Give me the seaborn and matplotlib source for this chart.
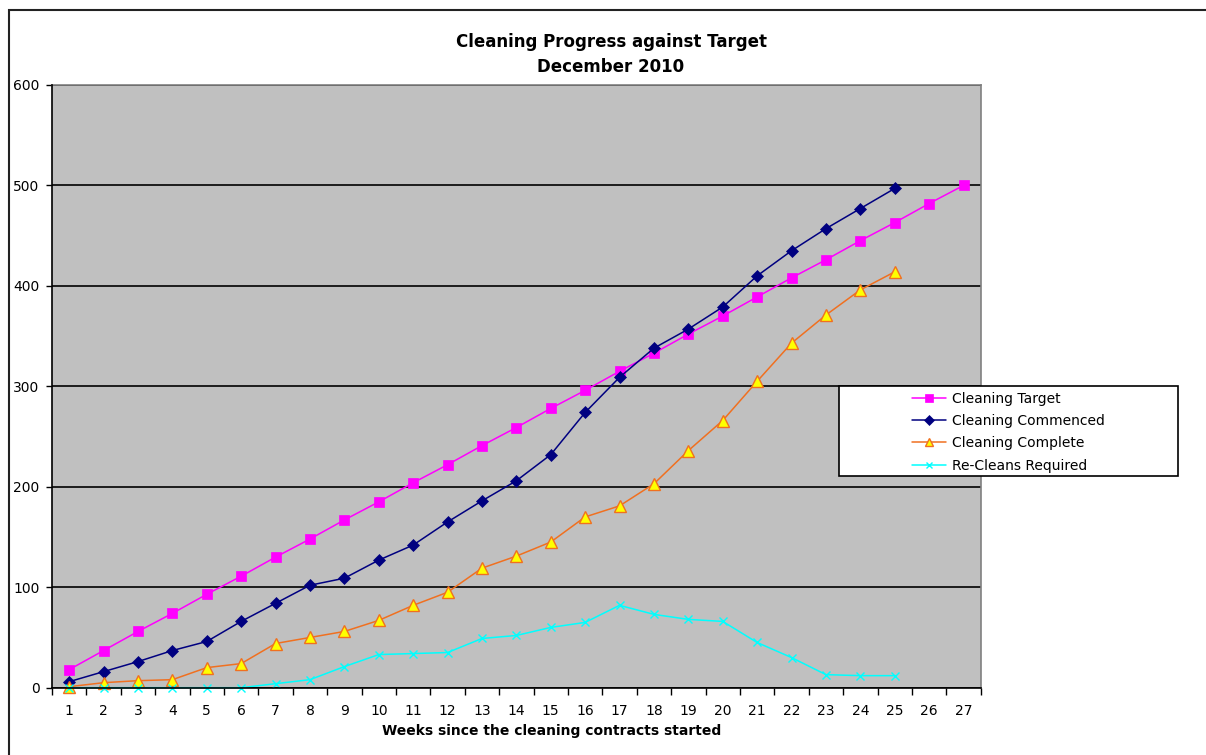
import numpy as np
import pandas as pd
import seaborn as sns
import matplotlib.pyplot as plt
from matplotlib.patches import Rectangle
from matplotlib.ticker import MultipleLocator, FixedLocator

# data
weeks = list(range(1, 28))
target = [18, 37, 56, 74, 93, 111, 130, 148, 167, 185, 204, 222, 241, 259,
          278, 296, 315, 333, 352, 370, 389, 408, 426, 445, 463, 482, 500]
commenced = [6, 16, 26, 37, 46, 66, 84, 102, 109, 127, 142, 165, 186, 206,
             232, 274, 309, 338, 357, 379, 410, 435, 457, 477, 497]
complete = [1, 5, 7, 8, 20, 24, 44, 50, 56, 67, 82, 95, 119, 131,
            145, 170, 181, 203, 236, 266, 305, 343, 371, 396, 414]
recleans = [0, 0, 0, 0, 0, 0, 4, 8, 21, 33, 34, 35, 49, 52,
            60, 65, 82, 73, 68, 66, 45, 30, 13, 12, 12]
series_names = ["Cleaning Target", "Cleaning Commenced",
                "Cleaning Complete", "Re-Cleans Required"]
y_ticks = [0, 100, 200, 300, 400, 500, 600]

W, H = 1206, 755
sns.set_style("white", {"axes.facecolor": "#C0C0C0"})
plt.rcParams["font.family"] = ["DejaVu Sans"]
plt.rcParams["text.color"] = "black"
plt.rcParams["xtick.color"] = "black"
plt.rcParams["ytick.color"] = "black"
plt.rcParams["xtick.labelcolor"] = "black"
plt.rcParams["ytick.labelcolor"] = "black"

fig = plt.figure(figsize=(W / 100, H / 100), dpi=100)
ax = fig.add_axes([52 / W, 1 - 687.7 / H, (980.7 - 52) / W, (687.7 - 85) / H])

styles = [
    dict(color="#FF00FF", marker="s", markersize=7, markerfacecolor="#FF00FF",
         markeredgecolor="#FF00FF", markeredgewidth=0.5),
    dict(color="#000080", marker="D", markersize=6.3, markerfacecolor="#000080",
         markeredgecolor="#000080", markeredgewidth=0.5),
    dict(color="#F07020", marker="^", markersize=8, markerfacecolor="#FFFF00",
         markeredgecolor="#F07020", markeredgewidth=1.0),
    dict(color="#00FFFF", marker="x", markersize=6, markeredgecolor="#00FFFF",
         markeredgewidth=1.0),
]
data = [target, commenced, complete, recleans]

handles = []
for name, vals, st in zip(series_names, data, styles):
    df = pd.DataFrame({"week": weeks[:len(vals)], "value": vals})
    sns.lineplot(data=df, x="week", y="value", ax=ax, linewidth=1.1,
                 clip_on=False, zorder=3, **st)
    leg_st = dict(st)
    leg_st["markersize"] = st["markersize"] * 0.8
    handles.append(plt.Line2D([], [], linewidth=1.1, **leg_st))

ax.set_xlim(0.5, 27.5)
ax.set_ylim(0, 600)
ax.set_xlabel("")
ax.set_ylabel("")

# y axis
ax.yaxis.set_major_locator(FixedLocator(y_ticks))
ax.set_yticklabels([str(v) for v in y_ticks], fontsize=10)
ax.tick_params(axis="y", direction="out", length=4, width=1, color="black",
               pad=5, left=True)
ax.yaxis.grid(True, color="black", linewidth=1.2)
ax.set_axisbelow(True)

# x axis: labels centred on categories, ticks between them
ax.set_xticks(weeks)
ax.set_xticklabels([str(w) for w in weeks], fontsize=10)
ax.xaxis.set_minor_locator(MultipleLocator(1, offset=0.5))
ax.tick_params(axis="x", which="major", length=0, pad=12)
ax.tick_params(axis="x", which="minor", direction="out", length=5, width=1,
               color="black", bottom=True)

for side in ["top", "right"]:
    ax.spines[side].set_color("#808080")
    ax.spines[side].set_linewidth(1.2)
for side in ["left", "bottom"]:
    ax.spines[side].set_color("black")
    ax.spines[side].set_linewidth(1.2)
    ax.spines[side].set_zorder(4)

# titles
fig.text(611 / W, 1 - 42 / H, "Cleaning Progress against Target",
         ha="center", va="center", fontsize=12, fontweight="bold")
fig.text(611 / W, 1 - 67 / H, "December 2010",
         ha="center", va="center", fontsize=12, fontweight="bold")
fig.text(552 / W, 1 - 731 / H, "Weeks since the cleaning contracts started",
         ha="center", va="center", fontsize=10, fontweight="bold")

# legend box and entries
fig.add_artist(Rectangle((839 / W, 1 - 476 / H), 339 / W, 90 / H,
                         transform=fig.transFigure, facecolor="white",
                         edgecolor="black", linewidth=1.2, zorder=5))
leg = fig.legend(handles, series_names, loc="upper left",
                 bbox_to_anchor=(906 / W, 1 - 386 / H), frameon=False,
                 fontsize=10, handlelength=2.5, handletextpad=0.4,
                 labelspacing=0.6, borderaxespad=0, borderpad=0.4)
leg.set_zorder(6)

# outer chart border
fig.add_artist(Rectangle((9 / W, -0.05), 1.1, 1 - 10 / H + 0.05,
                         transform=fig.transFigure, fill=False,
                         edgecolor="#222222", linewidth=1.5, zorder=7))

fig.savefig("out.png", dpi=100)
